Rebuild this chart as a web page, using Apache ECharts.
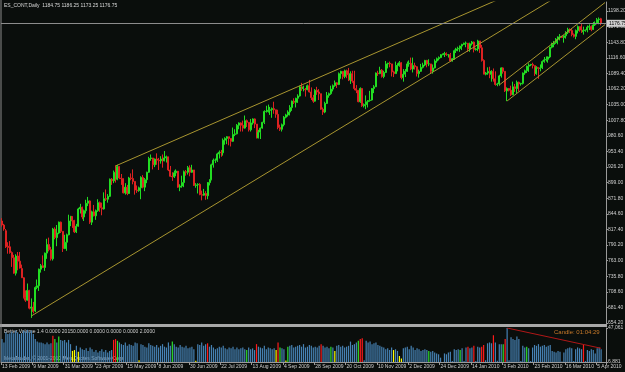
<!DOCTYPE html>
<html>
<head>
<meta charset="utf-8">
<script src="https://cdn.jsdelivr.net/npm/echarts@6/dist/echarts.min.js"></script>
<style>
html, body { margin: 0; padding: 0; background: #0a0e0c; }
#chart { width: 625px; height: 372px; }
</style>
</head>
<body>
<div id="chart"></div>
<script>
// daily bars, [open, high, low, close], 13 Feb 2009 .. 7 Apr 2010
var ohlc = [
  // 0  13 Feb 2009
  [832,837,822,825],[825,827,815,818],[815,818,785,787],[788,795,775,786],[787,797,775,777],[777,779,752,768],[768,773,740,741],[741,774,737,771],
  [771,778,746,762],[762,778,749,750],[749,756,733,733],[733,734,697,698],[698,711,691,694],[694,723,693,711],[711,712,678,680],[680,697,663,682],
  // 16  9 Mar 2009
  [682,691,671,674],[675,718,673,716],[716,730,713,719],[719,749,710,748],[748,757,742,754],[754,772,750,751],[751,777,745,776],[776,801,766,791],
  [791,803,779,782],[782,787,763,766],[766,820,763,818],[818,821,800,803],[803,825,788,811],[811,831,809,830],[830,831,811,814],[814,814,778,784],
  // 32  31 Mar 2009
  [784,808,783,795],[795,810,780,808],[808,843,807,832],[832,841,823,840],[840,840,820,833],[833,834,811,813],[813,827,811,823],[823,855,822,853],
  [853,862,845,856],[856,857,835,839],[839,852,832,850],[850,869,845,863],[863,874,858,867],[867,868,827,830],[830,850,825,848],[848,860,840,841],
  // 48  23 Apr 2009
  [841,852,834,850],[850,870,848,864],[864,866,848,855],[855,864,842,853],[853,882,852,871],[871,887,867,870],[870,879,864,875],[875,906,874,905],
  [905,907,895,902],[902,920,898,917],[917,929,899,905],[905,930,903,927],[927,928,905,907],[907,914,895,906],[906,906,880,881],[881,898,878,891],
  // 64  15 May 2009
  [891,895,877,880],[880,909,879,907],[907,915,903,906],[906,922,896,901],[901,901,878,886],[886,894,881,885],[885,892,883,890],[890,910,870,908],
  [908,912,889,891],[891,907,884,904],[904,918,898,917],[917,944,916,941],[941,948,937,942],[942,942,922,930],[930,941,926,940],[940,950,930,938],
  // 80  8 Jun 2009
  [938,942,921,937],[937,945,932,940],[940,948,925,937],[937,954,936,942],[942,946,934,944],[944,944,919,921],[921,928,909,910],[910,917,902,909],
  [909,920,907,916],[916,922,910,919],[919,919,890,891],[891,896,884,893],[893,911,890,899],[899,920,891,918],[918,921,911,917],[917,928,913,925],
  // 96  30 Jun 2009
  [925,929,910,917],[917,930,916,921],[921,921,893,894],[894,898,890,895],[895,898,880,896],[896,898,877,878],[878,885,868,877],[877,888,876,880],
  [880,884,869,876],[876,900,870,899],[899,905,894,904],[904,932,903,930],[930,941,925,938],[938,941,933,938],[938,951,935,949],[949,955,941,952],
  // 112  22 Jul 2009
  [952,956,944,951],[951,976,946,973],[973,978,965,976],[976,980,966,979],[979,979,964,976],[976,976,962,971],[971,995,970,983],[983,992,980,984],
  [984,1001,983,999],[999,1004,992,1003],[1003,1004,988,999],[999,1007,988,994],[994,1016,993,1007],[1007,1009,996,1004],[1004,1004,988,991],[991,1010,988,1003],
  // 128  13 Aug 2009
  [1003,1011,1000,1010],[1010,1011,994,1001],[1001,1001,976,977],[977,991,976,987],[987,995,975,994],[994,1005,993,1004],[1004,1025,1001,1023],[1023,1033,1021,1023],
  [1023,1035,1021,1025],[1025,1031,1017,1026],[1026,1030,1012,1028],[1028,1040,1019,1026],[1026,1026,1012,1018],[1018,1026,992,995],[995,1000,989,992],[992,1002,988,1000],
  // 144  4 Sep 2009
  [1000,1015,997,1013],[1013,1019,1011,1017],[1017,1025,1014,1022],[1022,1034,1016,1030],[1030,1042,1024,1041],[1041,1046,1036,1039],[1039,1047,1030,1046],[1046,1053,1038,1050],
  [1050,1068,1049,1066],[1066,1073,1059,1063],[1063,1068,1058,1065],[1062,1064,1049,1061],[1061,1070,1060,1068],[1068,1078,1056,1057],[1057,1065,1043,1047],[1047,1052,1038,1041],
  // 160  28 Sep 2009
  [1041,1062,1040,1060],[1060,1066,1052,1057],[1057,1062,1043,1054],[1054,1054,1026,1027],[1027,1030,1017,1022],[1022,1040,1020,1037],[1037,1057,1036,1051],[1051,1056,1047,1054],
  [1054,1068,1052,1062],[1062,1070,1058,1068],[1068,1077,1066,1073],[1073,1074,1064,1070],[1070,1091,1069,1089],[1089,1094,1080,1093],[1093,1093,1079,1084],[1084,1096,1081,1094],
  // 176  20 Oct 2009
  [1094,1096,1081,1087],[1087,1099,1076,1078],[1078,1093,1071,1089],[1089,1094,1073,1076],[1076,1094,1060,1063],[1063,1069,1055,1060],[1060,1060,1039,1040],[1040,1065,1038,1063],
  [1063,1064,1031,1033],[1033,1037,1030,1035],[1035,1051,1027,1040],[1040,1043,1030,1042],[1042,1059,1040,1043],[1043,1064,1042,1063],[1063,1069,1055,1066],[1066,1091,1066,1090],
  // 192  10 Nov 2009
  [1090,1094,1085,1089],[1089,1101,1088,1095],[1095,1097,1082,1084],[1084,1094,1081,1091],[1091,1111,1090,1106],[1106,1108,1098,1107],[1107,1110,1100,1106],[1106,1106,1084,1092],
  [1092,1094,1083,1089],[1089,1110,1089,1103],[1103,1107,1093,1103],[1103,1111,1101,1108],[1108,1109,1079,1082],[1082,1097,1075,1088],[1088,1097,1083,1093],[1093,1110,1092,1106],
  // 208  2 Dec 2009
  [1106,1112,1101,1107],[1107,1117,1095,1097],[1097,1117,1091,1103],[1103,1108,1096,1101],[1101,1102,1084,1089],[1089,1096,1082,1093],[1093,1106,1092,1100],[1100,1108,1098,1104],
  [1104,1113,1102,1112],[1112,1113,1100,1106],[1106,1114,1102,1106],[1106,1106,1090,1093],[1093,1105,1089,1099],[1099,1114,1098,1111],[1111,1117,1108,1115],[1115,1119,1112,1117],
  // 224  24 Dec 2009
  [1117,1123,1116,1122],[1122,1124,1121,1123],[1123,1127,1118,1124],[1124,1126,1120,1122],[1122,1123,1117,1122],[1122,1125,1110,1111],[1111,1116,1110,1115],[1115,1131,1113,1129],
  [1129,1134,1125,1132],[1132,1136,1128,1133],[1133,1138,1127,1137],[1137,1141,1130,1140],[1140,1143,1139,1142],[1142,1145,1135,1142],[1142,1142,1127,1132],[1132,1143,1127,1141],
  // 240  14 Jan 2010
  [1141,1146,1138,1144],[1144,1145,1126,1131],[1131,1134,1129,1132],[1132,1148,1128,1146],[1146,1146,1125,1134],[1134,1139,1110,1112],[1112,1114,1088,1088],[1088,1092,1086,1090],
  [1090,1100,1087,1093],[1093,1101,1081,1088],[1088,1095,1075,1093],[1093,1098,1075,1080],[1080,1093,1068,1070],[1070,1073,1067,1071],[1071,1087,1068,1085],[1085,1100,1082,1099],
  // 256  3 Feb 2010
  [1099,1100,1089,1093],[1093,1093,1057,1059],[1059,1065,1041,1063],[1063,1064,1058,1060],[1060,1068,1050,1052],[1052,1075,1052,1066],[1066,1071,1057,1063],[1063,1077,1055,1074],
  [1074,1075,1058,1071],[1071,1073,1068,1072],[1072,1091,1070,1090],[1090,1096,1087,1094],[1094,1103,1090,1102],[1102,1107,1092,1104],[1104,1106,1102,1105],[1105,1108,1098,1103],
  // 272  23 Feb 2010
  [1103,1103,1085,1089],[1089,1102,1087,1100],[1100,1100,1080,1098],[1098,1105,1093,1099],[1099,1112,1097,1110],[1110,1118,1108,1113],[1113,1119,1110,1114],[1114,1119,1108,1118],
  [1118,1136,1116,1135],[1135,1143,1133,1140],[1140,1146,1135,1143],[1143,1151,1141,1149],[1149,1154,1140,1153],[1153,1158,1147,1154],[1154,1155,1151,1152],[1152,1156,1143,1155],
  // 288  16 Mar 2010
  [1155,1163,1150,1161],[1161,1169,1158,1166],[1166,1168,1160,1164],[1164,1168,1154,1157],[1157,1159,1152,1154],[1154,1166,1149,1164],[1164,1173,1159,1171],[1171,1171,1162,1165],
  [1165,1177,1160,1162],[1162,1171,1157,1164],[1164,1166,1162,1165],[1165,1173,1161,1170],[1170,1175,1165,1171],[1171,1173,1163,1166],[1166,1179,1165,1174],[1174,1180,1172,1177],
  // 304  5 Apr 2010
  [1177,1186,1175,1183],[1183,1187,1175,1184],[1184.75,1186.25,1173.25,1176.75]
];

var volumes = [
  34000,30000,42000,40000,41000,43000,41000,44000,42000,40000,41000,44000,43000,45000,42000,44000,
  40000,34000,31000,30000,30000,29000,28000,30000,28000,29000,38000,34000,30000,37000,33000,32000,
  33000,30000,33000,28000,20000,21000,26000,19000,24000,22000,21000,23000,20000,24000,22000,19000,
  21000,18000,20000,22000,19000,21000,18000,20000,21000,33000,34000,32000,30000,28000,27000,30000,
  26000,28000,27000,26000,30000,29000,8900,28000,27000,25000,24000,29000,27000,26000,25000,27000,
  24000,26000,28000,25000,24000,30000,26000,31000,28000,25000,24000,27000,25000,24000,26000,23000,
  24000,25000,22000,8500,28000,27000,30000,26000,28000,29000,25000,27000,24000,22000,23000,25000,
  24000,26000,23000,22000,24000,23000,25000,22000,24000,22000,23000,24000,22000,21000,24000,22000,
  23000,21000,28000,25000,24000,23000,26000,22000,24000,23000,22000,23000,21000,30000,24000,23000,
  22000,8600,25000,26000,27000,24000,25000,26000,27000,25000,28000,24000,25000,27000,26000,24000,
  25000,24000,26000,28000,26000,24000,25000,23000,25000,24000,20000,26000,27000,25000,26000,24000,
  25000,26000,31000,27000,28000,30000,32000,34000,35000,9000,32000,30000,31000,28000,29000,30000,
  27000,26000,25000,24000,22000,23000,21000,24000,21000,22000,20000,14000,11000,23000,24000,25000,
  22000,26000,24000,21000,23000,22000,20000,21000,22000,21000,20000,19000,20000,18000,17000,16000,
  12000,6881,17000,16000,18000,19000,8000,22000,21000,22000,21000,23000,8000,24000,25000,23000,
  24000,26000,8000,25000,24000,25000,27000,9000,29000,30000,29000,38500,30000,8500,28000,28000,
  28000,34000,47061,9000,36000,34000,33000,37000,34000,8000,26000,24000,25000,23000,8000,24000,
  27000,26000,28000,25000,26000,27000,25000,26000,27000,20000,19000,18000,20000,19000,7500,18000,
  22000,23000,24000,23000,8000,22000,24000,23000,22000,27000,8000,21000,20000,22000,21000,17000,
  23000,24000,22000
];
// Better Volume colouring, by bar index
var redBars = [26,57,58,105,130,141,163,183,184,238,241,245,246,251,257,297];
var greenBars = [27,29,59,87,125,142,146,168,182,218,234,256,268];
var yellowBars = [36,37,39,70,99,140,145,170,200,203,204];

var tickLabels = ['13 Feb 2009','9 Mar 2009','31 Mar 2009','23 Apr 2009','15 May 2009','8 Jun 2009','30 Jun 2009',
  '22 Jul 2009','13 Aug 2009','4 Sep 2009','28 Sep 2009','20 Oct 2009','10 Nov 2009','2 Dec 2009','24 Dec 2009',
  '14 Jan 2010','3 Feb 2010','23 Feb 2010','16 Mar 2010','5 Apr 2010'];
var tickEvery = 16;
var priceTicks = [654.2,681.4,708.6,735.8,763.0,790.2,817.4,844.6,871.8,899.0,926.2,953.4,980.6,1007.8,1035.0,1062.2,1089.4,1116.6,1143.8,1171.0,1198.2];
var volTicks = [6881, 47061];
var bidPrice = 1176.75;

// trend lines as [bar index, price]
var trendLines = [
  [[15, 666.4], [290, 1236.8]],
  [[58, 928.0], [260, 1228.0]],
  [[258, 1041.3], [308, 1174.5]],
  [[254, 1069.2], [308, 1213.0]]
];
var volTrend = [[258, 47061], [306, 23100]];

var bg = '#0a0e0c';
var fg = '#cfcfcf';
var axisGray = '#9a9a9a';
var upColor = '#22dd22';
var downColor = '#dd2222';
var lineGold = '#a89530';
var font = 'Liberation Sans';

var cats = [];
for (var i = 0; i < ohlc.length + 2; i++) cats.push(String(i));

function showTick(i) {
  return i % tickEvery === 0 && i / tickEvery < tickLabels.length;
}

function volColor(i) {
  if (redBars.indexOf(i) >= 0) return '#ff1a1a';
  if (greenBars.indexOf(i) >= 0) return '#2ee02e';
  if (yellowBars.indexOf(i) >= 0) return '#ffff00';
  return '#4682b4';
}

var chart = echarts.init(document.getElementById('chart'));

var series = [{
  type: 'candlestick',
  xAxisIndex: 0,
  yAxisIndex: 0,
  large: false,
  largeThreshold: 100000,
  progressive: 0,
  barWidth: 1.5,
  data: ohlc.map(function (r) {
    var c = r[3] >= r[0] ? upColor : downColor;
    return {
      value: [r[0], r[3], r[2], r[1]],
      itemStyle: { color: c, color0: c, borderColor: c, borderColor0: c, borderColorDoji: c }
    };
  }),
  itemStyle: { borderWidth: 1 },
  markLine: {
    silent: true,
    symbol: 'none',
    data: [{ yAxis: bidPrice }],
    lineStyle: { color: '#8c8c8c', width: 1, type: 'solid' },
    label: {
      position: 'end',
      distance: 1,
      formatter: bidPrice.toFixed(2),
      backgroundColor: '#cfcfcf',
      color: '#000',
      fontSize: 5,
      fontFamily: font,
      padding: [1, 2]
    }
  }
}];

trendLines.forEach(function (pts) {
  series.push({
    type: 'line',
    xAxisIndex: 0,
    yAxisIndex: 0,
    data: pts,
    showSymbol: false,
    silent: true,
    clip: true,
    lineStyle: { color: lineGold, width: 1 }
  });
});

series.push({
  type: 'bar',
  xAxisIndex: 1,
  yAxisIndex: 1,
  barWidth: 1.2,
  data: volumes.map(function (v, i) {
    return { value: v, itemStyle: { color: volColor(i) } };
  })
});

series.push({
  type: 'line',
  xAxisIndex: 1,
  yAxisIndex: 1,
  data: volTrend,
  showSymbol: false,
  silent: true,
  lineStyle: { color: '#b01818', width: 1 }
});

chart.setOption({
  backgroundColor: bg,
  animation: false,
  grid: [
    { left: 1, top: 2, width: 605, height: 322, outerBoundsMode: 'none' },
    { left: 1, top: 328, width: 605, height: 34, outerBoundsMode: 'none' }
  ],
  xAxis: [{
    type: 'category',
    gridIndex: 0,
    data: cats,
    show: false
  }, {
    type: 'category',
    gridIndex: 1,
    data: cats,
    axisLine: { show: true, lineStyle: { color: axisGray } },
    axisTick: { show: true, interval: function (i) { return showTick(i); }, length: 3, lineStyle: { color: axisGray } },
    axisLabel: {
      interval: function (i) { return showTick(i); },
      formatter: function (v, i) { return tickLabels[i / tickEvery]; },
      align: 'left',
      margin: 2,
      fontSize: 5,
      fontFamily: font,
      color: fg
    },
    splitLine: { show: false }
  }],
  yAxis: [{
    type: 'value',
    gridIndex: 0,
    position: 'right',
    min: 652.4,
    max: 1213.9,
    splitLine: { show: false },
    axisLine: { show: true, lineStyle: { color: axisGray } },
    axisTick: { show: true, length: 2, customValues: priceTicks, lineStyle: { color: axisGray } },
    axisLabel: {
      customValues: priceTicks,
      formatter: function (v) { return v.toFixed(2); },
      margin: 2,
      fontSize: 5,
      fontFamily: font,
      color: fg
    }
  }, {
    type: 'value',
    gridIndex: 1,
    position: 'right',
    min: 6881,
    max: 47061,
    splitLine: { show: false },
    axisLine: { show: true, lineStyle: { color: axisGray } },
    axisTick: { show: true, length: 2, customValues: volTicks, lineStyle: { color: axisGray } },
    axisLabel: {
      customValues: volTicks,
      margin: 2,
      fontSize: 5,
      fontFamily: font,
      color: fg
    }
  }],
  graphic: [
    { type: 'rect', shape: { x: 0, y: 324, width: 607, height: 3 }, style: { fill: '#a8a8a8' }, silent: true },
    { type: 'line', shape: { x1: 1, y1: 0, x2: 1, y2: 362 }, style: { stroke: '#8a8a8a', lineWidth: 1 }, silent: true },
    { type: 'text', x: 4, y: 3, style: { text: 'ES_CONT,Daily  1184.75 1186.25 1173.25 1176.75', fill: '#d8d8d8', font: '5px "Liberation Sans"' } },
    { type: 'text', x: 4, y: 329, style: { text: 'Better Volume 1.4 0.0000 20150.0000 0.0000 0.0000 0.0000 2.0000', fill: '#d0d0d0', font: '5px "Liberation Sans"' } },
    { type: 'text', x: 4, y: 356, style: { text: 'MetaTrader, \u00a9 2001-2010 MetaQuotes Software Corp.', fill: '#d0d0d0', font: '5px "Liberation Sans"' } },
    { type: 'text', x: 554, y: 329, style: { text: 'Candle: 01:04:29', fill: '#c87a2a', font: '6px "Liberation Sans"' } }
  ],
  series: series
});
</script>
</body>
</html>
